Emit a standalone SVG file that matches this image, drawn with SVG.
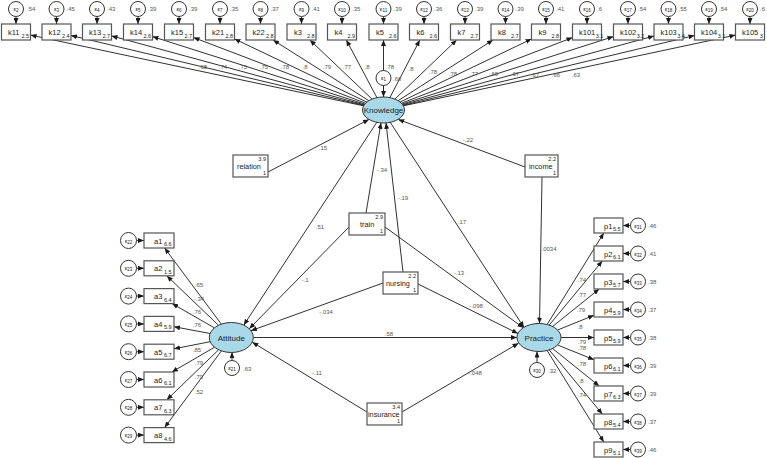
<svg xmlns="http://www.w3.org/2000/svg" width="767" height="458" viewBox="0 0 767 458">
<style>
.ln{stroke:#1a1a1a;stroke-width:0.9;fill:none;marker-end:url(#ah)}
.box{fill:#fff;stroke:#555;stroke-width:1.2}
.lat{fill:#a9d8e8;stroke:#333;stroke-width:1}
.err{fill:#fff;stroke:#333;stroke-width:1}
text{font-family:"Liberation Sans",Arial,sans-serif;fill:#222}
.bt{font-size:7.5px}
.xt{font-size:7.3px}
.sb{font-size:5.5px}
.et{font-size:6px;text-anchor:middle}
.es{font-size:4.5px}
.lab{font-size:6px;fill:#555;text-anchor:middle}
.var{font-size:6px;fill:#555}
.lt{font-size:8px;text-anchor:middle}
.end{text-anchor:end}
</style>
<defs>
<marker id="ah" markerWidth="6" markerHeight="5" refX="6" refY="2.5" orient="auto" markerUnits="userSpaceOnUse"><path d="M0,0L6,2.5L0,5z" fill="#1a1a1a"/></marker>
</defs>
<g id="connectors">
<path class="ln" d="M363.6,105.8L30.5,35.1"/>
<path class="ln" d="M363.9,105.3L71,35.5"/>
<path class="ln" d="M364.3,104.8L111.5,35.9"/>
<path class="ln" d="M364.8,104.1L152.5,36.6"/>
<path class="ln" d="M365.6,103.2L193.5,37.5"/>
<path class="ln" d="M366.9,102.1L234.5,38.9"/>
<path class="ln" d="M368.8,100.7L273.1,40"/>
<path class="ln" d="M372,99.1L309.9,40"/>
<path class="ln" d="M376.9,97.6L346.3,40"/>
<path class="ln" d="M383.5,97L383.5,40"/>
<path class="ln" d="M389.9,97.6L419.8,40"/>
<path class="ln" d="M394.9,99.1L456.6,40"/>
<path class="ln" d="M398.1,100.7L493,40"/>
<path class="ln" d="M400.1,102L531.5,39"/>
<path class="ln" d="M401.4,103.2L572.5,37.6"/>
<path class="ln" d="M402.2,104L613.5,36.6"/>
<path class="ln" d="M402.7,104.7L654,36"/>
<path class="ln" d="M403.1,105.3L694.5,35.5"/>
<path class="ln" d="M403.4,105.8L735.5,35.1"/>
<path class="ln" d="M16,16.5V24"/><path class="ln" d="M56.5,16.5V24"/><path class="ln" d="M97,16.5V24"/><path class="ln" d="M138,16.5V24"/><path class="ln" d="M179,16.5V24"/><path class="ln" d="M220,16.5V24"/><path class="ln" d="M260.5,16.5V24"/><path class="ln" d="M301.5,16.5V24"/><path class="ln" d="M342,16.5V24"/><path class="ln" d="M383.5,16.5V24"/><path class="ln" d="M424,16.5V24"/><path class="ln" d="M465,16.5V24"/><path class="ln" d="M505.5,16.5V24"/><path class="ln" d="M546,16.5V24"/><path class="ln" d="M587,16.5V24"/><path class="ln" d="M628,16.5V24"/><path class="ln" d="M668.5,16.5V24"/><path class="ln" d="M709,16.5V24"/><path class="ln" d="M750,16.5V24"/>
<path class="ln" d="M268,172L369,119.4"/>
<path class="ln" d="M525,167L398.2,119.4"/>
<path class="ln" d="M366,213L381,122.8"/>
<path class="ln" d="M403,272L386,122.9"/>
<path class="ln" d="M377,122L243.8,325.1"/>
<path class="ln" d="M390,122L524,327.5"/>
<path class="ln" d="M349,227L249.3,328.7"/>
<path class="ln" d="M385,227L523.3,327.8"/>
<path class="ln" d="M383,283L251,330.7"/>
<path class="ln" d="M418,284L518,333.5"/>
<path class="ln" d="M253.3,337.5L517,337.5"/>
<path class="ln" d="M367,412L252.3,342.2"/>
<path class="ln" d="M402,412L518.5,343.2"/>
<path class="ln" d="M542,177L539.5,323.5"/>
<path class="ln" d="M221.3,324.1L164.6,248"/>
<path class="ln" d="M218.5,325.3L166.8,275.8"/>
<path class="ln" d="M214.5,327.9L172.1,303.6"/>
<path class="ln" d="M210.1,333.5L174,326.7"/>
<path class="ln" d="M210.2,341.7L174,348.8"/>
<path class="ln" d="M214.6,347.2L171.9,372"/>
<path class="ln" d="M218.6,349.8L166.8,399.8"/>
<path class="ln" d="M221.4,350.9L164.6,427.6"/>
<path class="ln" d="M136.5,240.5H144"/><path class="ln" d="M136.5,268.3H144"/><path class="ln" d="M136.5,296.1H144"/><path class="ln" d="M136.5,323.9H144"/><path class="ln" d="M136.5,351.7H144"/><path class="ln" d="M136.5,379.5H144"/><path class="ln" d="M136.5,407.3H144"/><path class="ln" d="M136.5,435.1H144"/>
<path class="ln" d="M547.1,324.5L603.8,233"/>
<path class="ln" d="M549.2,325.1L602.3,261"/>
<path class="ln" d="M552.6,326.5L599.2,289"/>
<path class="ln" d="M557.6,330L594,315.3"/>
<path class="ln" d="M561,337.5L594,337.5"/>
<path class="ln" d="M557.6,345L594,359.7"/>
<path class="ln" d="M552.6,348.5L599.2,386"/>
<path class="ln" d="M549.2,349.9L602.3,414"/>
<path class="ln" d="M547.1,350.5L603.8,442"/>
<path class="ln" d="M630.5,225.5H623"/><path class="ln" d="M630.5,253.5H623"/><path class="ln" d="M630.5,281.5H623"/><path class="ln" d="M630.5,309.5H623"/><path class="ln" d="M630.5,337.5H623"/><path class="ln" d="M630.5,365.5H623"/><path class="ln" d="M630.5,393.5H623"/><path class="ln" d="M630.5,421.5H623"/><path class="ln" d="M630.5,449.5H623"/>
<path class="ln" d="M383.5,85.5V97"/>
<path class="ln" d="M232,360.5V352.3"/>
<path class="ln" d="M537,362.5V351.5"/>
</g>
<g id="labels">
<text class="lab" x="203" y="69">.68</text><text class="lab" x="223" y="69">.74</text><text class="lab" x="243" y="69">.75</text><text class="lab" x="264" y="69">.75</text><text class="lab" x="285" y="69">.78</text><text class="lab" x="305" y="69">.8</text><text class="lab" x="327" y="69">.79</text><text class="lab" x="347" y="69">.77</text><text class="lab" x="367" y="69">.8</text>
<text class="lab" x="390" y="69">.78</text><text class="lab" x="411" y="71">.8</text><text class="lab" x="433" y="74">.78</text><text class="lab" x="453" y="76">.78</text><text class="lab" x="474" y="76">.77</text><text class="lab" x="494" y="76">.69</text><text class="lab" x="515" y="76">.67</text><text class="lab" x="535" y="77">.67</text><text class="lab" x="556" y="77">.66</text><text class="lab" x="576" y="77">.63</text>
<text class="lab" x="323" y="150">.15</text><text class="lab" x="468" y="142">-.22</text><text class="lab" x="382" y="172">-.34</text><text class="lab" x="403" y="200">-.19</text><text class="lab" x="320" y="229">.51</text><text class="lab" x="462" y="224">.17</text><text class="lab" x="305" y="282">-.1</text><text class="lab" x="459" y="275">-.13</text><text class="lab" x="326" y="314">-.034</text><text class="lab" x="476" y="308">-.098</text><text class="lab" x="389" y="336">.58</text><text class="lab" x="317" y="375">-.11</text><text class="lab" x="475" y="375">-.048</text><text class="lab" x="549" y="251">.0034</text>
<text class="lab" x="199" y="287">.65</text><text class="lab" x="199" y="301">-.34</text><text class="lab" x="197" y="314">.76</text><text class="lab" x="197" y="327">.76</text><text class="lab" x="197" y="352">.85</text><text class="lab" x="199" y="365">.79</text><text class="lab" x="199" y="379">.79</text><text class="lab" x="199" y="394">.52</text>
<text class="lab" x="582" y="282">.74</text><text class="lab" x="582" y="297">.77</text><text class="lab" x="581" y="312">.79</text><text class="lab" x="580" y="329">.8</text><text class="lab" x="582" y="344">.79</text><text class="lab" x="582" y="350">.78</text><text class="lab" x="582" y="366">.78</text><text class="lab" x="581" y="383">.8</text><text class="lab" x="582" y="397">.74</text>
</g>
<g id="Knowledge"><ellipse class="lat" cx="383.5" cy="110" rx="21" ry="13"/><text class="lt" x="383.5" y="113">Knowledge</text></g>
<g id="Attitude"><ellipse class="lat" cx="231.3" cy="337.5" rx="22" ry="15"/><text class="lt" x="231.3" y="340.5">Attitude</text></g>
<g id="Practice"><ellipse class="lat" cx="539" cy="337.5" rx="22" ry="14"/><text class="lt" x="539" y="340.5">Practice</text></g>
<g id="e1"><circle class="err" cx="383.5" cy="78" r="7.5"/><text class="et" x="383.5" y="80">ε<tspan class="es" dy="1">1</tspan></text><text class="var" x="393" y="81">.68</text></g>
<g id="e21"><circle class="err" cx="232" cy="368" r="7.5"/><text class="et" x="232" y="370">ε<tspan class="es" dy="1">21</tspan></text><text class="var" x="243" y="371">.63</text></g>
<g id="e30"><circle class="err" cx="537" cy="370" r="7.5"/><text class="et" x="537" y="372">ε<tspan class="es" dy="1">30</tspan></text><text class="var" x="548" y="373">.32</text></g>
<g id="relation"><rect class="box" x="233" y="155" width="35" height="22"/><text class="xt" x="237" y="169">relation</text><text class="sb end" x="266" y="161">3.9</text><text class="sb end" x="266" y="175">1</text></g>
<g id="income"><rect class="box" x="525" y="155" width="33" height="22"/><text class="xt" x="529" y="169">income</text><text class="sb end" x="556" y="161">2.2</text><text class="sb end" x="556" y="175">1</text></g>
<g id="train"><rect class="box" x="349" y="213" width="36" height="22"/><text class="xt" x="360" y="227">train</text><text class="sb end" x="383" y="219">2.9</text><text class="sb end" x="383" y="233">1</text></g>
<g id="nursing"><rect class="box" x="383" y="272" width="35" height="22"/><text class="xt" x="386" y="286">nursing</text><text class="sb end" x="416" y="278">2.2</text><text class="sb end" x="416" y="292">1</text></g>
<g id="insurance"><rect class="box" x="367" y="403" width="35" height="22"/><text class="xt" x="368" y="417">insurance</text><text class="sb end" x="400" y="409">3.4</text><text class="sb end" x="400" y="423">1</text></g>
<g id="k11"><rect class="box" x="1.5" y="24" width="29" height="16"/><text class="bt" x="8" y="35">k11<tspan class="sb" x="21.5" dy="2.5">2.5</tspan></text><circle class="err" cx="16" cy="9" r="7.5"/><text class="et" x="16" y="11">ε<tspan class="es" dy="1">2</tspan></text><text class="var" x="27" y="11">.54</text></g>
<g id="k12"><rect class="box" x="42" y="24" width="29" height="16"/><text class="bt" x="48.5" y="35">k12<tspan class="sb" x="62" dy="2.5">2.4</tspan></text><circle class="err" cx="56.5" cy="9" r="7.5"/><text class="et" x="56.5" y="11">ε<tspan class="es" dy="1">3</tspan></text><text class="var" x="66.5" y="11">.45</text></g>
<g id="k13"><rect class="box" x="82.5" y="24" width="29" height="16"/><text class="bt" x="89" y="35">k13<tspan class="sb" x="102.5" dy="2.5">2.7</tspan></text><circle class="err" cx="97" cy="9" r="7.5"/><text class="et" x="97" y="11">ε<tspan class="es" dy="1">4</tspan></text><text class="var" x="107" y="11">.43</text></g>
<g id="k14"><rect class="box" x="123.5" y="24" width="29" height="16"/><text class="bt" x="130" y="35">k14<tspan class="sb" x="143.5" dy="2.5">2.6</tspan></text><circle class="err" cx="138" cy="9" r="7.5"/><text class="et" x="138" y="11">ε<tspan class="es" dy="1">5</tspan></text><text class="var" x="148" y="11">.39</text></g>
<g id="k15"><rect class="box" x="164.5" y="24" width="29" height="16"/><text class="bt" x="171" y="35">k15<tspan class="sb" x="184.5" dy="2.5">2.7</tspan></text><circle class="err" cx="179" cy="9" r="7.5"/><text class="et" x="179" y="11">ε<tspan class="es" dy="1">6</tspan></text><text class="var" x="189" y="11">.39</text></g>
<g id="k21"><rect class="box" x="205.5" y="24" width="29" height="16"/><text class="bt" x="212" y="35">k21<tspan class="sb" x="225.5" dy="2.5">2.8</tspan></text><circle class="err" cx="220" cy="9" r="7.5"/><text class="et" x="220" y="11">ε<tspan class="es" dy="1">7</tspan></text><text class="var" x="230" y="11">.35</text></g>
<g id="k22"><rect class="box" x="246" y="24" width="29" height="16"/><text class="bt" x="252.5" y="35">k22<tspan class="sb" x="266" dy="2.5">2.8</tspan></text><circle class="err" cx="260.5" cy="9" r="7.5"/><text class="et" x="260.5" y="11">ε<tspan class="es" dy="1">8</tspan></text><text class="var" x="270.5" y="11">.37</text></g>
<g id="k3"><rect class="box" x="287" y="24" width="29" height="16"/><text class="bt" x="294" y="35">k3<tspan class="sb" x="307" dy="2.5">2.8</tspan></text><circle class="err" cx="301.5" cy="9" r="7.5"/><text class="et" x="301.5" y="11">ε<tspan class="es" dy="1">9</tspan></text><text class="var" x="311.5" y="11">.41</text></g>
<g id="k4"><rect class="box" x="327.5" y="24" width="29" height="16"/><text class="bt" x="334.5" y="35">k4<tspan class="sb" x="347.5" dy="2.5">2.9</tspan></text><circle class="err" cx="342" cy="9" r="7.5"/><text class="et" x="342" y="11">ε<tspan class="es" dy="1">10</tspan></text><text class="var" x="352" y="11">.35</text></g>
<g id="k5"><rect class="box" x="369" y="24" width="29" height="16"/><text class="bt" x="376" y="35">k5<tspan class="sb" x="389" dy="2.5">2.6</tspan></text><circle class="err" cx="383.5" cy="9" r="7.5"/><text class="et" x="383.5" y="11">ε<tspan class="es" dy="1">11</tspan></text><text class="var" x="393.5" y="11">.39</text></g>
<g id="k6"><rect class="box" x="409.5" y="24" width="29" height="16"/><text class="bt" x="416.5" y="35">k6<tspan class="sb" x="429.5" dy="2.5">2.6</tspan></text><circle class="err" cx="424" cy="9" r="7.5"/><text class="et" x="424" y="11">ε<tspan class="es" dy="1">12</tspan></text><text class="var" x="434" y="11">.36</text></g>
<g id="k7"><rect class="box" x="450.5" y="24" width="29" height="16"/><text class="bt" x="457.5" y="35">k7<tspan class="sb" x="470.5" dy="2.5">2.7</tspan></text><circle class="err" cx="465" cy="9" r="7.5"/><text class="et" x="465" y="11">ε<tspan class="es" dy="1">13</tspan></text><text class="var" x="475" y="11">.39</text></g>
<g id="k8"><rect class="box" x="491" y="24" width="29" height="16"/><text class="bt" x="498" y="35">k8<tspan class="sb" x="511" dy="2.5">2.7</tspan></text><circle class="err" cx="505.5" cy="9" r="7.5"/><text class="et" x="505.5" y="11">ε<tspan class="es" dy="1">14</tspan></text><text class="var" x="515.5" y="11">.39</text></g>
<g id="k9"><rect class="box" x="531.5" y="24" width="29" height="16"/><text class="bt" x="538.5" y="35">k9<tspan class="sb" x="551.5" dy="2.5">2.8</tspan></text><circle class="err" cx="546" cy="9" r="7.5"/><text class="et" x="546" y="11">ε<tspan class="es" dy="1">15</tspan></text><text class="var" x="556" y="11">.41</text></g>
<g id="k101"><rect class="box" x="572.5" y="24" width="29" height="16"/><text class="bt" x="579" y="35">k101<tspan class="sb" dx="0.5" dy="2.5">3.1</tspan></text><circle class="err" cx="587" cy="9" r="7.5"/><text class="et" x="587" y="11">ε<tspan class="es" dy="1">16</tspan></text><text class="var" x="597" y="11">.6</text></g>
<g id="k102"><rect class="box" x="613.5" y="24" width="29" height="16"/><text class="bt" x="620" y="35">k102<tspan class="sb" dx="0.5" dy="2.5">3.2</tspan></text><circle class="err" cx="628" cy="9" r="7.5"/><text class="et" x="628" y="11">ε<tspan class="es" dy="1">17</tspan></text><text class="var" x="638" y="11">.54</text></g>
<g id="k103"><rect class="box" x="654" y="24" width="29" height="16"/><text class="bt" x="660.5" y="35">k103<tspan class="sb" dx="0.5" dy="2.5">3.4</tspan></text><circle class="err" cx="668.5" cy="9" r="7.5"/><text class="et" x="668.5" y="11">ε<tspan class="es" dy="1">18</tspan></text><text class="var" x="678.5" y="11">.55</text></g>
<g id="k104"><rect class="box" x="694.5" y="24" width="29" height="16"/><text class="bt" x="701" y="35">k104<tspan class="sb" dx="0.5" dy="2.5">3.1</tspan></text><circle class="err" cx="709" cy="9" r="7.5"/><text class="et" x="709" y="11">ε<tspan class="es" dy="1">19</tspan></text><text class="var" x="719" y="11">.54</text></g>
<g id="k105"><rect class="box" x="735.5" y="24" width="29" height="16"/><text class="bt" x="742" y="35">k105<tspan class="sb" dx="1.5" dy="2.5">3</tspan></text><circle class="err" cx="750" cy="9" r="7.5"/><text class="et" x="750" y="11">ε<tspan class="es" dy="1">20</tspan></text><text class="var" x="760" y="11">.6</text></g>
<g id="a1"><rect class="box" x="144" y="233" width="30" height="15"/><text class="bt" x="154" y="243.5">a1<tspan class="sb" x="164" dy="2.5">6.6</tspan></text><circle class="err" cx="128.5" cy="240.5" r="8"/><text class="et" x="128.5" y="242.5">ε<tspan class="es" dy="1">22</tspan></text></g>
<g id="a2"><rect class="box" x="144" y="260.8" width="30" height="15"/><text class="bt" x="154" y="271.3">a2<tspan class="sb" x="164" dy="2.5">1.5</tspan></text><circle class="err" cx="128.5" cy="268.3" r="8"/><text class="et" x="128.5" y="270.3">ε<tspan class="es" dy="1">23</tspan></text></g>
<g id="a3"><rect class="box" x="144" y="288.6" width="30" height="15"/><text class="bt" x="154" y="299.1">a3<tspan class="sb" x="164" dy="2.5">6.4</tspan></text><circle class="err" cx="128.5" cy="296.1" r="8"/><text class="et" x="128.5" y="298.1">ε<tspan class="es" dy="1">24</tspan></text></g>
<g id="a4"><rect class="box" x="144" y="316.4" width="30" height="15"/><text class="bt" x="154" y="326.9">a4<tspan class="sb" x="164" dy="2.5">5.9</tspan></text><circle class="err" cx="128.5" cy="323.9" r="8"/><text class="et" x="128.5" y="325.9">ε<tspan class="es" dy="1">25</tspan></text></g>
<g id="a5"><rect class="box" x="144" y="344.2" width="30" height="15"/><text class="bt" x="154" y="354.7">a5<tspan class="sb" x="164" dy="2.5">6.7</tspan></text><circle class="err" cx="128.5" cy="351.7" r="8"/><text class="et" x="128.5" y="353.7">ε<tspan class="es" dy="1">26</tspan></text></g>
<g id="a6"><rect class="box" x="144" y="372" width="30" height="15"/><text class="bt" x="154" y="382.5">a6<tspan class="sb" x="164" dy="2.5">6.1</tspan></text><circle class="err" cx="128.5" cy="379.5" r="8"/><text class="et" x="128.5" y="381.5">ε<tspan class="es" dy="1">27</tspan></text></g>
<g id="a7"><rect class="box" x="144" y="399.8" width="30" height="15"/><text class="bt" x="154" y="410.3">a7<tspan class="sb" x="164" dy="2.5">6.3</tspan></text><circle class="err" cx="128.5" cy="407.3" r="8"/><text class="et" x="128.5" y="409.3">ε<tspan class="es" dy="1">28</tspan></text></g>
<g id="a8"><rect class="box" x="144" y="427.6" width="30" height="15"/><text class="bt" x="154" y="438.1">a8<tspan class="sb" x="164" dy="2.5">4.6</tspan></text><circle class="err" cx="128.5" cy="435.1" r="8"/><text class="et" x="128.5" y="437.1">ε<tspan class="es" dy="1">29</tspan></text></g>
<g id="p1"><rect class="box" x="594" y="218" width="29" height="15"/><text class="bt" x="604" y="228.5">p1<tspan class="sb" x="613" dy="2.5">5.5</tspan></text><circle class="err" cx="638" cy="225.5" r="7.5"/><text class="et" x="638" y="227.5">ε<tspan class="es" dy="1">31</tspan></text><text class="var" x="648" y="228">.46</text></g>
<g id="p2"><rect class="box" x="594" y="246" width="29" height="15"/><text class="bt" x="604" y="256.5">p2<tspan class="sb" x="613" dy="2.5">6.1</tspan></text><circle class="err" cx="638" cy="253.5" r="7.5"/><text class="et" x="638" y="255.5">ε<tspan class="es" dy="1">32</tspan></text><text class="var" x="648" y="256">.41</text></g>
<g id="p3"><rect class="box" x="594" y="274" width="29" height="15"/><text class="bt" x="604" y="284.5">p3<tspan class="sb" x="613" dy="2.5">5.7</tspan></text><circle class="err" cx="638" cy="281.5" r="7.5"/><text class="et" x="638" y="283.5">ε<tspan class="es" dy="1">33</tspan></text><text class="var" x="648" y="284">.38</text></g>
<g id="p4"><rect class="box" x="594" y="302" width="29" height="15"/><text class="bt" x="604" y="312.5">p4<tspan class="sb" x="613" dy="2.5">5.9</tspan></text><circle class="err" cx="638" cy="309.5" r="7.5"/><text class="et" x="638" y="311.5">ε<tspan class="es" dy="1">34</tspan></text><text class="var" x="648" y="312">.37</text></g>
<g id="p5"><rect class="box" x="594" y="330" width="29" height="15"/><text class="bt" x="604" y="340.5">p5<tspan class="sb" x="613" dy="2.5">5.9</tspan></text><circle class="err" cx="638" cy="337.5" r="7.5"/><text class="et" x="638" y="339.5">ε<tspan class="es" dy="1">35</tspan></text><text class="var" x="648" y="340">.38</text></g>
<g id="p6"><rect class="box" x="594" y="358" width="29" height="15"/><text class="bt" x="604" y="368.5">p6<tspan class="sb" x="613" dy="2.5">6.1</tspan></text><circle class="err" cx="638" cy="365.5" r="7.5"/><text class="et" x="638" y="367.5">ε<tspan class="es" dy="1">36</tspan></text><text class="var" x="648" y="368">.39</text></g>
<g id="p7"><rect class="box" x="594" y="386" width="29" height="15"/><text class="bt" x="604" y="396.5">p7<tspan class="sb" x="613" dy="2.5">6.3</tspan></text><circle class="err" cx="638" cy="393.5" r="7.5"/><text class="et" x="638" y="395.5">ε<tspan class="es" dy="1">37</tspan></text><text class="var" x="648" y="396">.39</text></g>
<g id="p8"><rect class="box" x="594" y="414" width="29" height="15"/><text class="bt" x="604" y="424.5">p8<tspan class="sb" x="613" dy="2.5">5.4</tspan></text><circle class="err" cx="638" cy="421.5" r="7.5"/><text class="et" x="638" y="423.5">ε<tspan class="es" dy="1">38</tspan></text><text class="var" x="648" y="424">.37</text></g>
<g id="p9"><rect class="box" x="594" y="442" width="29" height="15"/><text class="bt" x="604" y="452.5">p9<tspan class="sb" x="613" dy="2.5">5.1</tspan></text><circle class="err" cx="638" cy="449.5" r="7.5"/><text class="et" x="638" y="451.5">ε<tspan class="es" dy="1">39</tspan></text><text class="var" x="648" y="452">.46</text></g>
</svg>
